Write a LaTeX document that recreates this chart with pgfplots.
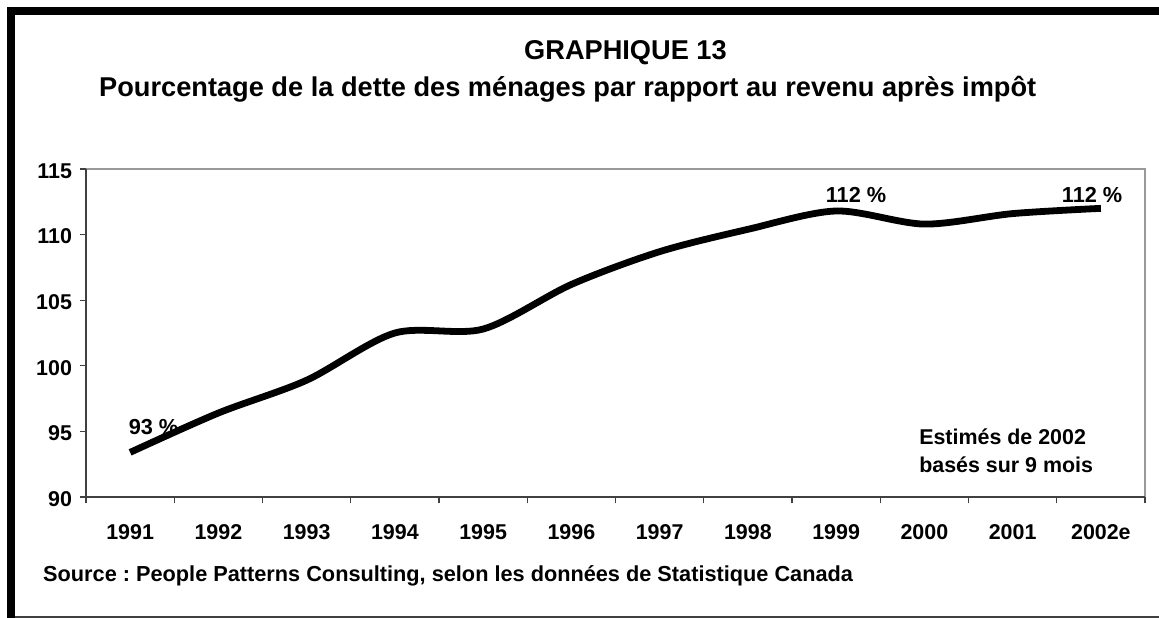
\documentclass[border=0pt]{standalone}
\usepackage{pgfplots}
\pgfplotsset{compat=1.18}
\usepackage{fontspec}
\setmainfont{Liberation Sans}
\frenchspacing
\begin{document}
\begin{tikzpicture}[x=1bp,y=1bp]
\useasboundingbox (0,0) rectangle (1159,618);
% frame
\fill[black] (7,0) rectangle (15,611);
\fill[black] (7,603) rectangle (1159,611);
\draw[black!75, line width=1.3bp] (15,1) -- (1159,1);
% titles
\node[anchor=base west, inner sep=0, font=\fontsize{27.3}{30}\selectfont\bfseries] at (524,558) {GRAPHIQUE 13};
\node[anchor=base west, inner sep=0, font=\fontsize{27.3}{30}\selectfont\bfseries] at (99,521) {Pourcentage de la dette des ménages par rapport au revenu après impôt};
\node[anchor=base west, inner sep=0, font=\fontsize{21.8}{24}\selectfont\bfseries] at (43,36) {Source : People Patterns Consulting, selon les données de Statistique Canada};
\begin{axis}[
  scale only axis,
  width=1059bp, height=328bp,
  at={(86bp,121bp)}, anchor=south west,
  xmin=0, xmax=12, ymin=90, ymax=115,
  xtick={0,...,12},
  x tick label as interval,
  xticklabels={1991,1992,1993,1994,1995,1996,1997,1998,1999,2000,2001,2002e},
  ytick={90,95,...,115},
  xtick pos=bottom, ytick pos=left,
  tick align=outside,
  major tick length=6.5bp,
  tick style={black!75, line width=1.1bp},
  axis line style={draw=none},
  /pgf/number format/assume math mode=true,
  tick label style={font=\fontsize{21.5}{24}\selectfont\bfseries},
  xticklabel style={yshift=-18bp},
  yticklabel style={xshift=-4bp, yshift=-2bp},
  clip=false,
]
\draw[black!40, line width=1.5bp] (rel axis cs:0,1) -- (rel axis cs:1,1) -- (rel axis cs:1,0);
\draw[black!75, line width=1.5bp] (rel axis cs:0,1) -- (rel axis cs:0,0) -- (rel axis cs:1,0);
\addplot[black, line width=6.8bp, smooth, line cap=butt] coordinates {
(0.5,93.4) (1.5,96.4) (2.5,98.9) (3.5,102.5) (4.5,102.8) (5.5,106.2)
(6.5,108.7) (7.5,110.4) (8.5,111.8) (9.5,110.8) (10.5,111.6) (11.5,112.0)
};
\node[font=\fontsize{21.8}{24}\selectfont\bfseries] at (axis cs:0.765,95.34) {93 \%};
\node[font=\fontsize{21.8}{24}\selectfont\bfseries] at (axis cs:8.725,113.02) {112 \%};
\node[font=\fontsize{21.8}{24}\selectfont\bfseries] at (axis cs:11.40,113.02) {112 \%};
\node[anchor=west, inner sep=0, align=left, font=\fontsize{21.5}{28}\selectfont\bfseries] at (axis cs:9.44,93.5) {Estimés de 2002\\basés sur 9 mois};
\end{axis}
\end{tikzpicture}
\end{document}
